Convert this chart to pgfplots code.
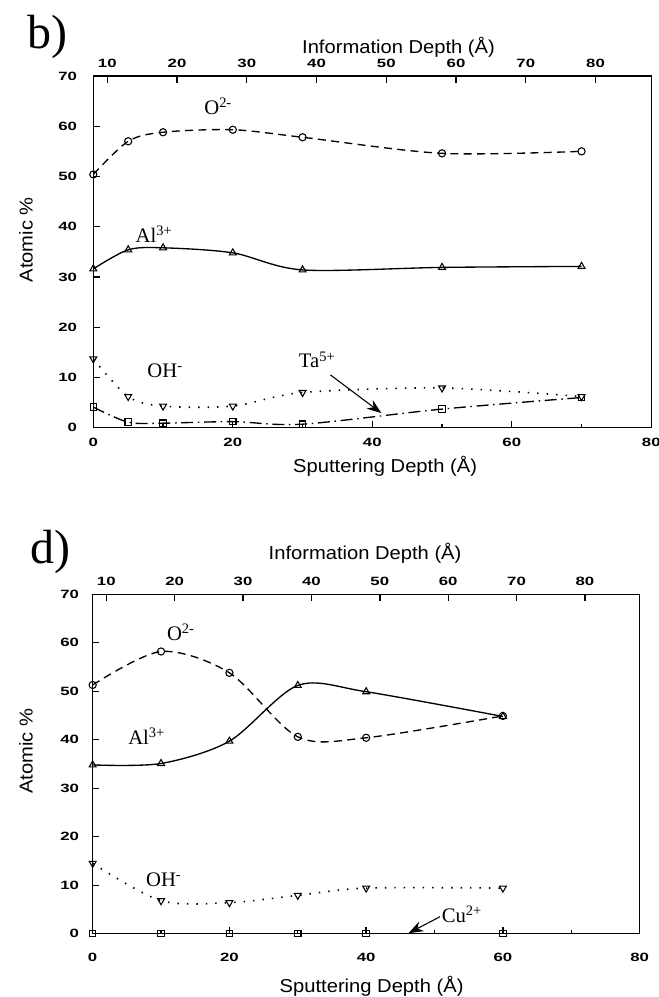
\documentclass[border=0pt]{standalone}
\usepackage{fontspec}
\setmainfont{Liberation Serif}
\newfontfamily\tickfont[FakeStretch=1.4]{Liberation Sans Bold}
\newfontfamily\labfont[FakeStretch=1.08]{Liberation Sans}
\usepackage{pgfplots}
\pgfplotsset{compat=1.18}
\usetikzlibrary{arrows.meta}

\tikzset{ionlab/.style={font=\fontsize{15.5}{17}\selectfont}}
\pgfplotsset{
  mainax/.style={
    scale only axis, anchor=south west,
    xmin=0, xmax=80, ymin=0, ymax=70, clip=false,
    axis line style={line width=1.1pt},
    tick align=inside, xtick pos=left, ytick pos=left,
    xtick={0,20,40,60,80}, minor xtick={10,30,50,70},
    ytick={0,10,...,70},
    major tick length=5pt, minor tick length=3pt,
    every tick/.style={line width=1pt, black},
    /pgf/number format/assume math mode=true,
    ticklabel style={font=\tickfont\fontsize{9}{10}\selectfont},
    label style={font=\labfont\fontsize{14}{16}\selectfont},
    xlabel={Sputtering Depth (Å)},
    ylabel={Atomic \%},
    every axis plot/.append style={black, line width=1pt},
  },
  infoax/.style={
    scale only axis, anchor=south west,
    xmin=8, xmax=88, ymin=0, ymax=70,
    axis x line*=top, axis y line=none,
    axis line style={line width=1.1pt},
    xtick={10,20,...,80}, tick align=inside,
    major tick length=5pt,
    every tick/.style={line width=1pt, black},
    /pgf/number format/assume math mode=true,
    xticklabel style={font=\tickfont\fontsize{9}{10}\selectfont, anchor=south, yshift=2.8pt},
    label style={font=\labfont\fontsize{14}{16}\selectfont},
    xlabel={Information Depth (Å)},
  },
  ostyle/.style={dash pattern=on 6pt off 4pt, mark=o, mark size=2.7pt, mark options={solid, line width=0.8pt}},
  alstyle/.style={solid, mark=triangle, mark size=3pt, mark options={solid, line width=0.8pt}},
  ohstyle/.style={dash pattern=on 1.1pt off 6pt, line width=1.2pt, mark=triangle, mark size=3pt, mark options={solid, rotate=180, line width=0.8pt}},
  tastyle/.style={dash pattern=on 9pt off 3.5pt on 1.1pt off 3.5pt, mark=square, mark size=2.4pt, mark options={solid, line width=0.8pt}},
}

\begin{document}
\begin{tikzpicture}
\useasboundingbox (0,0) rectangle (493.5pt,747.75pt);

% ---------- panel b ----------
\node[font=\fontsize{36}{40}\selectfont] at (35.6pt,720pt) {b)};
\begin{axis}[mainax, at={(69.98pt,426.98pt)}, width=418.5pt, height=263.8pt,
  xticklabel style={yshift=-4.6pt}, yticklabel style={xshift=-8.7pt},
  xlabel style={at={(axis description cs:0.523,-0.111)}, anchor=center},
  ylabel style={at={(axis description cs:-0.1206,0.534)}, anchor=center}]
\addplot[ostyle, smooth] coordinates {(0,50.4) (5,57) (10,58.8) (20,59.3) (30,57.8) (50,54.6) (70,55)};
\addplot[alstyle, smooth] coordinates {(0,31.6) (5,35.4) (10,35.8) (20,34.8) (30,31.4) (50,31.9) (70,32.1)};
\addplot[ohstyle, smooth] coordinates {(0,13.7) (5,6.2) (10,4.3) (20,4.3) (30,7.0) (50,7.9) (70,6.2)};
\addplot[tastyle, smooth] coordinates {(0,4.1) (5,1.1) (10,0.9) (20,1.2) (30,0.7) (50,3.7) (70,6.0)};
\node[ionlab] at (axis cs:17.9,63.9) {O\textsuperscript{2-}};
\node[ionlab] at (axis cs:8.7,38.6) {Al\textsuperscript{3+}};
\node[ionlab] at (axis cs:10.3,11.3) {OH\textsuperscript{-}};
\node[ionlab] at (axis cs:32.1,13.5) {Ta\textsuperscript{5+}};
\draw[-{Stealth[length=11pt,width=8pt]}, line width=0.8pt] (axis cs:34,10.5) -- (axis cs:41.3,2.9);
\end{axis}
\begin{axis}[infoax, at={(69.98pt,426.98pt)}, width=418.5pt, height=263.8pt,
  xlabel style={at={(axis description cs:0.547,1.0825)}, anchor=center}]
\end{axis}

% ---------- panel d ----------
\node[font=\fontsize{36}{40}\selectfont] at (37.5pt,333.75pt) {d)};
\begin{axis}[mainax, at={(69.5pt,47.5pt)}, width=410.25pt, height=254.55pt,
  xticklabel style={yshift=-11.1pt}, yticklabel style={xshift=-6.7pt},
  xlabel style={at={(axis description cs:0.51,-0.156)}, anchor=center},
  ylabel style={at={(axis description cs:-0.122,0.538)}, anchor=center}]
\addplot[ostyle, smooth] coordinates {(0,51.3) (10,58.2) (20,53.8) (30,40.6) (40,40.4) (60,44.9)};
\addplot[alstyle, smooth] coordinates {(0,34.8) (10,35.1) (20,39.7) (30,51.2) (40,49.9) (60,44.8)};
\addplot[ohstyle, smooth] coordinates {(0,14.5) (10,6.8) (20,6.4) (30,7.9) (40,9.4) (60,9.4)};
\addplot[solid, mark=square, mark size=2.4pt, mark options={solid, line width=0.8pt}] coordinates {(0,0) (10,0) (20,0) (30,0) (40,0) (60,0)};
\node[ionlab] at (axis cs:12.9,62.2) {O\textsuperscript{2-}};
\node[ionlab] at (axis cs:7.9,40.8) {Al\textsuperscript{3+}};
\node[ionlab] at (axis cs:10.4,11.2) {OH\textsuperscript{-}};
\node[ionlab] at (axis cs:54.0,3.9) {Cu\textsuperscript{2+}};
\draw[-{Stealth[length=11pt,width=8pt]}, line width=0.8pt] (axis cs:50.8,3.5) -- (axis cs:46.2,0.1);
\end{axis}
\begin{axis}[infoax, at={(69.5pt,47.5pt)}, width=410.25pt, height=254.55pt,
  xlabel style={at={(axis description cs:0.498,1.120)}, anchor=center}]
\end{axis}
\end{tikzpicture}
\end{document}
